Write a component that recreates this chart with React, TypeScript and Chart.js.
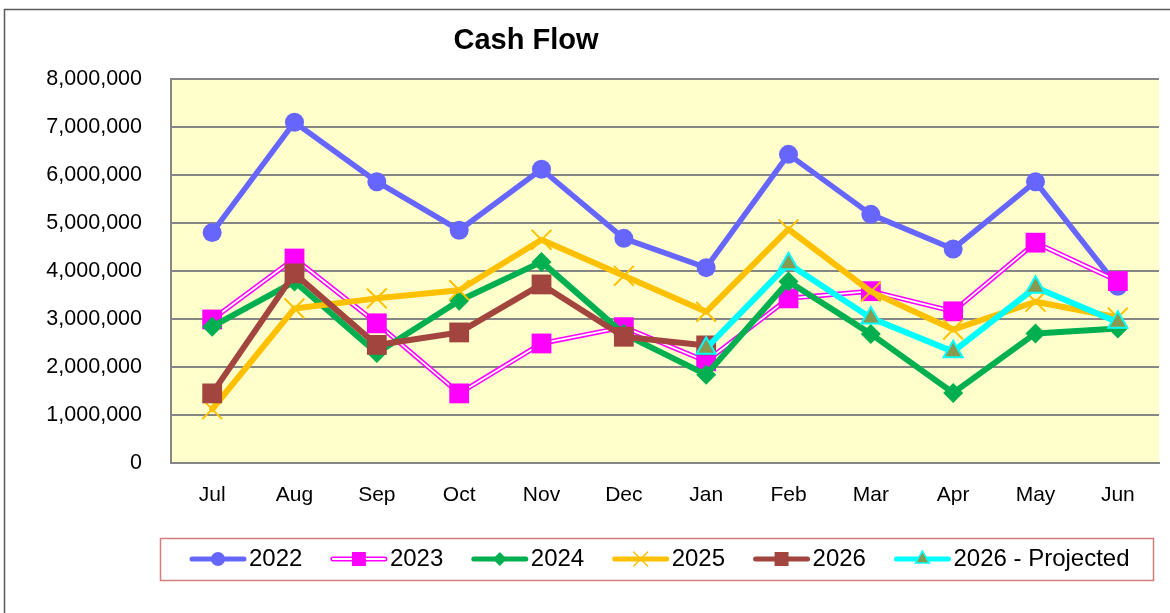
import React, { useEffect, useRef } from 'react';
import { Chart, registerables } from 'chart.js';

Chart.register(...registerables);

const categories = ['Jul', 'Aug', 'Sep', 'Oct', 'Nov', 'Dec', 'Jan', 'Feb', 'Mar', 'Apr', 'May', 'Jun'];

const s2022 = [4800000, 7100000, 5860000, 4850000, 6120000, 4680000, 4070000, 6430000, 5180000, 4460000, 5860000, 3680000];
const s2023 = [2990000, 4260000, 2910000, 1450000, 2490000, 2830000, 2120000, 3430000, 3580000, 3160000, 4590000, 3790000];
const s2024 = [2840000, 3780000, 2290000, 3380000, 4190000, 2690000, 1840000, 3780000, 2690000, 1460000, 2700000, 2800000];
const s2025 = [1120000, 3220000, 3430000, 3600000, 4650000, 3900000, 3150000, 4870000, 3570000, 2780000, 3360000, 3030000];
const s2026 = [1450000, 3950000, 2460000, 2720000, 3720000, 2630000, 2450000, null, null, null, null, null];
const s2026Projected = [null, null, null, null, null, null, 2390000, 4150000, 3020000, 2320000, 3660000, 2930000];

const seriesLabels = ['2022', '2023', '2024', '2025', '2026', '2026 - Projected'];
const yMin = 0;
const yMax = 8000000;
const yStep = 1000000;
const titleText = 'Cash Flow';

const FONT = "'Liberation Sans', Arial, sans-serif";

const C_BLUE = '#6666FF';
const C_MAG = '#FF00FF';
const C_GREEN = '#00B050';
const C_GOLD = '#FFC000';
const C_BROWN = '#A3453F';
const C_CYAN = '#00FFFF';
const C_OLIVE = '#889A50';
const GRID = '#868686';

type Mk = { style: string; fill: string; stroke: string; bw: number; r: number };

const legendDefs: { label: string; color: string; width: number; inner?: boolean; mk: Mk }[] = [
  { label: seriesLabels[0], color: C_BLUE, width: 5, mk: { style: 'circle', fill: C_BLUE, stroke: C_BLUE, bw: 0, r: 7 } },
  { label: seriesLabels[1], color: C_MAG, width: 5, inner: true, mk: { style: 'rect', fill: C_MAG, stroke: C_MAG, bw: 0, r: 7 } },
  { label: seriesLabels[2], color: C_GREEN, width: 5, mk: { style: 'rectRot', fill: C_GREEN, stroke: C_GREEN, bw: 0, r: 7 } },
  { label: seriesLabels[3], color: C_GOLD, width: 5, mk: { style: 'crossRot', fill: C_GOLD, stroke: C_GOLD, bw: 1.5, r: 7 } },
  { label: seriesLabels[4], color: C_BROWN, width: 5, mk: { style: 'rect', fill: C_BROWN, stroke: C_BROWN, bw: 0, r: 7 } },
  { label: seriesLabels[5], color: C_CYAN, width: 5, mk: { style: 'triangle', fill: C_OLIVE, stroke: C_CYAN, bw: 1.5, r: 8 } },
];

function drawMarker(ctx: CanvasRenderingContext2D, m: Mk, x: number, y: number) {
  ctx.save();
  ctx.beginPath();
  const r = m.r;
  if (m.style === 'circle') {
    ctx.arc(x, y, r, 0, Math.PI * 2);
  } else if (m.style === 'rect') {
    ctx.rect(x - r, y - r, 2 * r, 2 * r);
  } else if (m.style === 'rectRot') {
    ctx.moveTo(x - r, y); ctx.lineTo(x, y - r); ctx.lineTo(x + r, y); ctx.lineTo(x, y + r); ctx.closePath();
  } else if (m.style === 'crossRot') {
    ctx.moveTo(x - r, y - r); ctx.lineTo(x + r, y + r); ctx.moveTo(x - r, y + r); ctx.lineTo(x + r, y - r);
  } else if (m.style === 'triangle') {
    ctx.moveTo(x, y - r); ctx.lineTo(x + r * 0.866, y + r * 0.5); ctx.lineTo(x - r * 0.866, y + r * 0.5); ctx.closePath();
  }
  if (m.style !== 'crossRot') { ctx.fillStyle = m.fill; ctx.fill(); }
  if (m.bw > 0) { ctx.strokeStyle = m.stroke; ctx.lineWidth = m.bw; ctx.stroke(); }
  ctx.restore();
}

const decorPlugin = {
  id: 'decor',
  beforeDraw(chart: any) {
    const { ctx, chartArea: a } = chart;
    ctx.save();
    ctx.fillStyle = '#FFFFFF';
    ctx.fillRect(0, 0, chart.width, chart.height);
    ctx.strokeStyle = '#5A5A5A';
    ctx.lineWidth = 1.5;
    ctx.beginPath();
    ctx.moveTo(4.5, chart.height);
    ctx.lineTo(4.5, 9.5);
    ctx.lineTo(chart.width, 9.5);
    ctx.stroke();
    ctx.fillStyle = '#FFFFCC';
    ctx.fillRect(a.left, a.top, a.right - a.left, a.bottom - a.top);
    ctx.restore();
  },
  afterDraw(chart: any) {
    const { ctx } = chart;
    ctx.save();
    // title
    ctx.fillStyle = '#000';
    ctx.font = `bold 29px ${FONT}`;
    ctx.textAlign = 'center';
    ctx.textBaseline = 'middle';
    ctx.fillText(titleText, 526, 41);
    // legend box
    ctx.strokeStyle = '#D47C7C';
    ctx.lineWidth = 1.5;
    ctx.strokeRect(160.5, 538.5, 993, 42);
    ctx.font = `24px ${FONT}`;
    ctx.textAlign = 'left';
    let x = 190;
    const y = 559;
    legendDefs.forEach((d) => {
      const x1 = x, x2 = x + 56;
      ctx.lineCap = 'round';
      ctx.strokeStyle = d.color;
      ctx.lineWidth = d.width;
      ctx.beginPath(); ctx.moveTo(x1 + 2, y); ctx.lineTo(x2 - 2, y); ctx.stroke();
      if (d.inner) {
        ctx.strokeStyle = '#FFFFFF';
        ctx.lineWidth = 2;
        ctx.beginPath(); ctx.moveTo(x1 + 2, y); ctx.lineTo(x2 - 2, y); ctx.stroke();
      }
      drawMarker(ctx, d.mk, (x1 + x2) / 2, y);
      ctx.fillStyle = '#000';
      ctx.fillText(d.label, x2 + 3, y);
      x = x2 + 3 + ctx.measureText(d.label).width + 28.5;
    });
    ctx.restore();
  },
};

export default function App() {
  const ref = useRef<HTMLCanvasElement | null>(null);
  useEffect(() => {
    if (!ref.current) return;
    const common = { borderJoinStyle: 'round', borderCapStyle: 'round', tension: 0 };
    const chart = new Chart(ref.current, {
      type: 'line',
      data: {
        labels: categories,
        datasets: [
          { ...common, label: seriesLabels[0], data: s2022, order: 0, borderColor: C_BLUE, borderWidth: 5.5, pointStyle: 'circle', pointRadius: 9.5, pointBackgroundColor: C_BLUE, pointBorderWidth: 0 },
          { ...common, label: seriesLabels[1], data: s2023, order: -1, borderColor: C_MAG, borderWidth: 5, pointRadius: 0 },
          { ...common, label: seriesLabels[1] + ' inner', data: s2023, order: -2, borderColor: '#FFFFFF', borderWidth: 1.8, pointRadius: 0 },
          { ...common, label: seriesLabels[1] + ' markers', data: s2023, order: -3, showLine: false, pointStyle: 'rect', pointRadius: 14, pointBackgroundColor: C_MAG, pointBorderWidth: 0 },
          { ...common, label: seriesLabels[2], data: s2024, order: -4, borderColor: C_GREEN, borderWidth: 6, pointStyle: 'rectRot', pointRadius: 10, pointBackgroundColor: C_GREEN, pointBorderWidth: 0 },
          { ...common, label: seriesLabels[3], data: s2025, order: -5, borderColor: C_GOLD, borderWidth: 6, pointStyle: 'crossRot', pointRadius: 14, pointBorderColor: C_GOLD, pointBorderWidth: 2 },
          { ...common, label: seriesLabels[4], data: s2026, order: -6, borderColor: C_BROWN, borderWidth: 6, pointStyle: 'rect', pointRadius: 14, pointBackgroundColor: C_BROWN, pointBorderWidth: 0 },
          { ...common, label: seriesLabels[5], data: s2026Projected, order: -7, borderColor: C_CYAN, borderWidth: 6, pointStyle: 'triangle', pointRadius: 11, pointBackgroundColor: C_OLIVE, pointBorderColor: C_CYAN, pointBorderWidth: 2 },
        ] as any,
      },
      options: {
        responsive: false,
        animation: false,
        devicePixelRatio: 1,
        layout: { autoPadding: false, padding: { top: 79, right: 11, bottom: 90, left: 0 } },
        plugins: {
          legend: { display: false },
          title: { display: false },
          tooltip: { enabled: false },
        },
        scales: {
          x: {
            offset: true,
            grid: { display: false, drawTicks: false },
            border: { display: true, color: GRID, width: 2 },
            ticks: { padding: 20, color: '#000', maxRotation: 0, autoSkip: false, font: { family: FONT, size: 21 } },
            afterFit: (s: any) => { s.height = 60; s.paddingLeft = 0; s.paddingRight = 0; },
          },
          y: {
            min: yMin,
            max: yMax,
            grid: { color: GRID, lineWidth: 2, drawTicks: false },
            border: { display: true, color: GRID, width: 2 },
            ticks: {
              stepSize: yStep,
              padding: 29,
              color: '#000',
              font: { family: FONT, size: 21.5 },
              callback: (v: any) => Number(v).toLocaleString('en-US'),
            },
            afterFit: (s: any) => { s.width = 171; s.paddingTop = 0; s.paddingBottom = 0; },
          },
        },
      } as any,
      plugins: [decorPlugin],
    });
    return () => chart.destroy();
  }, []);
  return (
    <div style={{ position: 'absolute', left: 0, top: 0, width: 1170, height: 613, overflow: 'hidden' }}>
      <canvas ref={ref} width={1170} height={613} style={{ display: 'block', width: 1170, height: 613 }} />
    </div>
  );
}
